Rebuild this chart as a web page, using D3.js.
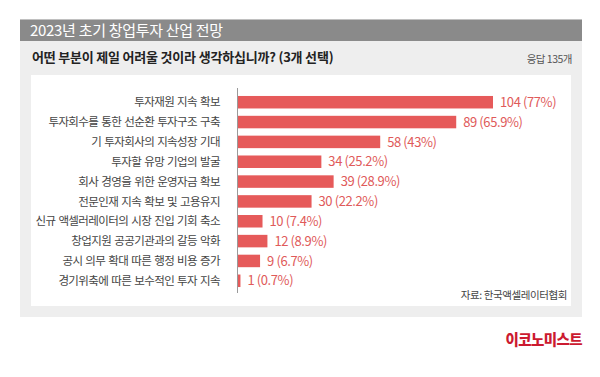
<!DOCTYPE html>
<html>
<head>
<meta charset="utf-8">
<script src="https://cdn.jsdelivr.net/npm/d3@7"></script>
<style>
  html, body { margin: 0; padding: 0; background: #fff; }
  svg text { font-family: "Noto Sans CJK KR", "Noto Sans", sans-serif; }
</style>
</head>
<body>
<div id="chart"></div>
<script>
// --- DATI ---
const categories = [
  "투자재원 지속 확보",
  "투자회수를 통한 선순환 투자구조 구축",
  "기 투자회사의 지속성장 기대",
  "투자할 유망 기업의 발굴",
  "회사 경영을 위한 운영자금 확보",
  "전문인재 지속 확보 및 고용유지",
  "신규 액셀러레이터의 시장 진입 기회 축소",
  "창업지원 공공기관과의 갈등 악화",
  "공시 의무 확대 따른 행정 비용 증가",
  "경기위축에 따른 보수적인 투자 지속"
];
const counts = [104, 89, 58, 34, 39, 30, 10, 12, 9, 1];
const shares = ["77%", "65.9%", "43%", "25.2%", "28.9%", "22.2%", "7.4%", "8.9%", "6.7%", "0.7%"];

const title = "2023년 초기 창업투자 산업 전망";
const question = "어떤 부분이 제일 어려울 것이라 생각하십니까? (3개 선택)";
const respondents = "응답 135개";
const source = "자료: 한국액셀레이터협회";
const brand = "이코노미스트";

// --- SETUP ---
const width = 600, height = 377;
const svg = d3.select("#chart").append("svg")
    .attr("width", width)
    .attr("height", height);

// cornice grigia + testata
svg.append("rect").attr("x", 20).attr("y", 19.5).attr("width", 562).attr("height", 297.5).attr("fill", "#eeeeee");
svg.append("rect").attr("x", 20).attr("y", 19.5).attr("width", 562).attr("height", 21.5).attr("fill", "#8a8a8a");
svg.append("rect").attr("x", 31).attr("y", 75).attr("width", 540).attr("height", 231).attr("fill", "#ffffff");

svg.append("text").attr("x", 30).attr("y", 36)
    .attr("fill", "#fff").attr("font-size", 15).attr("letter-spacing", -0.3)
    .text(title);
svg.append("text").attr("x", 32).attr("y", 62)
    .attr("fill", "#222").attr("font-size", 13).attr("font-weight", 700).attr("letter-spacing", -0.2)
    .text(question);
svg.append("text").attr("x", 572).attr("y", 63).attr("text-anchor", "end")
    .attr("fill", "#555").attr("font-size", 10.5).attr("letter-spacing", -0.5)
    .text(respondents);

// --- SCALE ---
const x0 = 238;
const x = d3.scaleLinear().domain([0, 104]).range([x0, 493]);
const y = d3.scaleBand().domain(categories).range([92, 291]).paddingInner(0.37).paddingOuter(0.2);

const g = svg.append("g");

g.selectAll("rect.bar")
  .data(categories)
  .join("rect")
    .attr("class", "bar")
    .attr("x", x0)
    .attr("y", d => y(d))
    .attr("width", (d, i) => x(counts[i]) - x0)
    .attr("height", y.bandwidth())
    .attr("fill", "#e65a5a");

// asse verticale
g.append("line")
    .attr("x1", x0 - 0.5).attr("x2", x0 - 0.5)
    .attr("y1", 88).attr("y2", 293)
    .attr("stroke", "#9a9a9a").attr("stroke-width", 1);

g.selectAll("text.cat")
  .data(categories)
  .join("text")
    .attr("class", "cat")
    .attr("x", 220)
    .attr("y", d => y(d) + y.bandwidth() / 2)
    .attr("dy", "0.36em")
    .attr("text-anchor", "end")
    .attr("fill", "#444")
    .attr("font-size", 11.5)
    .attr("letter-spacing", -0.6)
    .attr("word-spacing", 1)
    .text(d => d);

g.selectAll("text.val")
  .data(categories)
  .join("text")
    .attr("class", "val")
    .attr("x", (d, i) => x(counts[i]) + 7)
    .attr("y", d => y(d) + y.bandwidth() / 2)
    .attr("dy", "0.36em")
    .attr("fill", "#e05a5a")
    .attr("font-size", 13)
    .attr("letter-spacing", -0.4)
    .text((d, i) => `${counts[i]} (${shares[i]})`);

svg.append("text").attr("x", 567).attr("y", 299).attr("text-anchor", "end")
    .attr("fill", "#444").attr("font-size", 10.5).attr("letter-spacing", -0.4)
    .text(source);

svg.append("text").attr("x", 582).attr("y", 345).attr("text-anchor", "end")
    .attr("fill", "#cc1a30").attr("font-size", 14.5).attr("font-weight", 900).attr("letter-spacing", -0.6)
    .text(brand);
</script>
</body>
</html>
